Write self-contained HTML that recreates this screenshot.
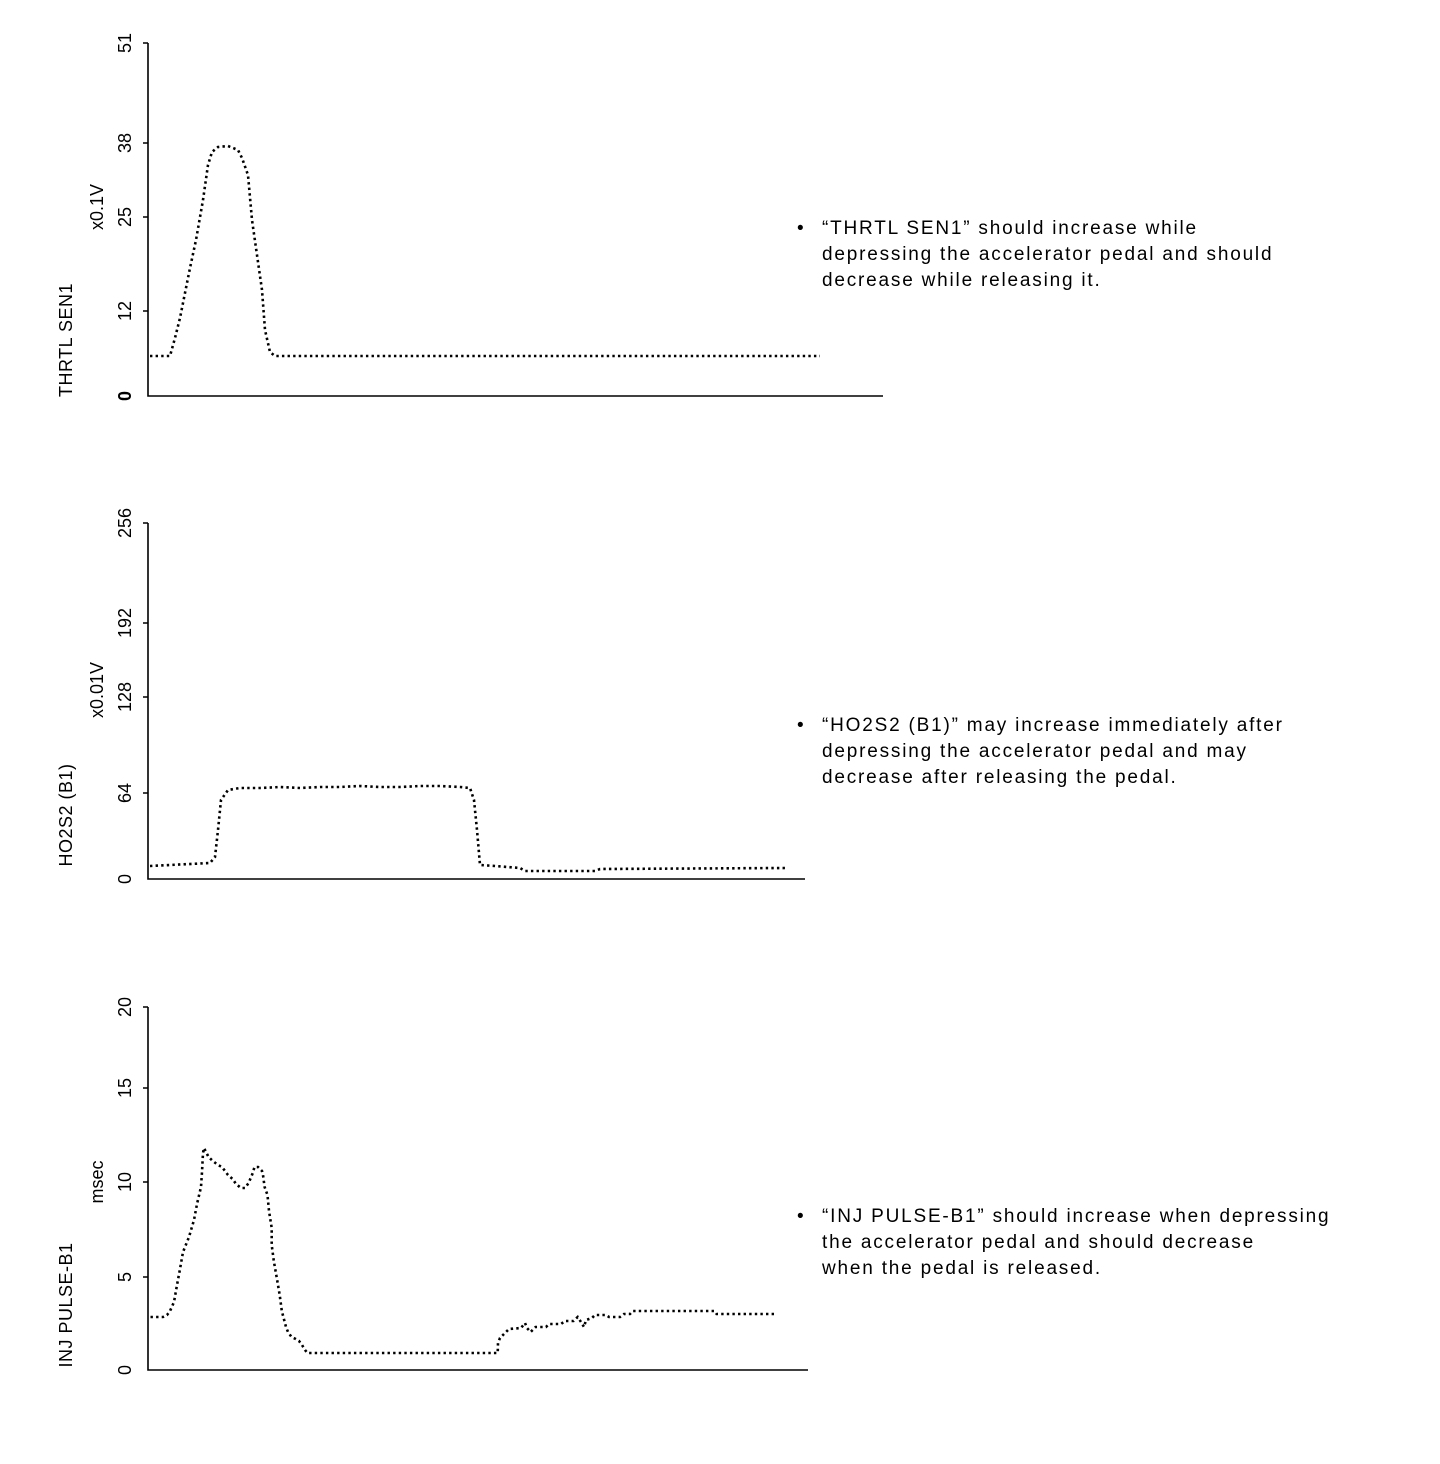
<!DOCTYPE html>
<html><head><meta charset="utf-8"><style>
html,body{margin:0;padding:0;background:#fff}
svg{display:block}
text{font-family:"Liberation Sans",Arial,sans-serif;fill:#000}
.t{font-size:18px}
.l{font-size:18px}
.b{font-size:19px;letter-spacing:1.8px}
.d{fill:none;stroke:#000;stroke-width:2.6;stroke-dasharray:2.4 3.2}
</style></head><body>
<svg width="1440" height="1464" viewBox="0 0 1440 1464">
<g stroke="#000" stroke-width="1.6" fill="none">
<path d="M148 43V396H883M143 43H148M143 143H148M143 217H148M143 311H148"/>
<path d="M148 523V879H805M143 523H148M143 623H148M143 697H148M143 793H148"/>
<path d="M148 1007V1370H808M143 1007H148M143 1088H148M143 1182H148M143 1277H148"/>
</g>
<g class="t">
<text transform="translate(131,43) rotate(-90)" text-anchor="middle">51</text>
<text transform="translate(131,143) rotate(-90)" text-anchor="middle">38</text>
<text transform="translate(131,217) rotate(-90)" text-anchor="middle">25</text>
<text transform="translate(131,311) rotate(-90)" text-anchor="middle">12</text>
<text transform="translate(131,396) rotate(-90)" text-anchor="middle" font-weight="bold">0</text>
<text transform="translate(131,523) rotate(-90)" text-anchor="middle">256</text>
<text transform="translate(131,623) rotate(-90)" text-anchor="middle">192</text>
<text transform="translate(131,697) rotate(-90)" text-anchor="middle">128</text>
<text transform="translate(131,793) rotate(-90)" text-anchor="middle">64</text>
<text transform="translate(131,879) rotate(-90)" text-anchor="middle">0</text>
<text transform="translate(131,1007) rotate(-90)" text-anchor="middle">20</text>
<text transform="translate(131,1088) rotate(-90)" text-anchor="middle">15</text>
<text transform="translate(131,1182) rotate(-90)" text-anchor="middle">10</text>
<text transform="translate(131,1277) rotate(-90)" text-anchor="middle">5</text>
<text transform="translate(131,1370) rotate(-90)" text-anchor="middle">0</text>
</g>
<g class="l">
<text transform="translate(103,207) rotate(-90)" text-anchor="middle">x0.1V</text>
<text transform="translate(72,340) rotate(-90)" text-anchor="middle" letter-spacing="0.5">THRTL SEN1</text>
<text transform="translate(103,690) rotate(-90)" text-anchor="middle">x0.01V</text>
<text transform="translate(72,815) rotate(-90)" text-anchor="middle" letter-spacing="0.5">HO2S2 (B1)</text>
<text transform="translate(103,1182) rotate(-90)" text-anchor="middle">msec</text>
<text transform="translate(72,1305) rotate(-90)" text-anchor="middle" letter-spacing="0.5">INJ PULSE-B1</text>
</g>
<polyline class="d" points="150,356 170,356 175,338 180,318 185,293 190,268 196,240 203,200 208,165 212,152 218,147 228,146 238,150 242,158 248,175 252,220 257,255 262,290 265,330 270,352 275,356 820,356"/>
<polyline class="d" points="150,866 210,863 215,857 218,830 221,800 228,790 240,788 260,788 280,787 300,788 320,787 340,787 360,786 380,787 400,787 420,786 440,786 460,787 470,788 474,800 477,830 480,865 495,866 520,868 525,871 595,871 600,869 785,868"/>
<polyline class="d" points="150.5,1317 163,1317 167,1315 170,1311 174,1302 177,1285 180,1269 183,1252 189,1237 194,1220 197,1204 201,1187 202,1172 203,1153 204,1148 206.5,1153 208.6,1157 212.8,1161 218,1165 222,1167 228,1175 232.6,1179 236,1184 241,1188 245,1188 248.6,1183 250.7,1178 252.8,1173 254.5,1167 258,1167 262,1171 263,1175 264.6,1187 267.5,1195 269,1211 271.7,1228 271.7,1245 273.8,1261 276.8,1278 279.7,1295 281.8,1311 286,1327 288,1332 291.5,1337 295.7,1339 299,1341 302,1345 305,1350 307.5,1353 497.7,1353 498,1343 500,1338 509,1329 521,1328 525,1323 527,1328 530.6,1332 535.6,1327 546,1327 549,1324 561,1324 565,1321 573.5,1321 577.7,1317 581,1322 584,1327 586,1320 592,1318 595,1315 606,1315 609,1317 620,1317 624,1314 630,1314 633,1311 714.5,1311 716.6,1314 775.5,1314"/>
<g class="b">
<text x="797" y="234">•</text>
<text x="822" y="234">“THRTL SEN1” should increase while</text>
<text x="822" y="260">depressing the accelerator pedal and should</text>
<text x="822" y="286">decrease while releasing it.</text>
<text x="797" y="731">•</text>
<text x="822" y="731">“HO2S2 (B1)” may increase immediately after</text>
<text x="822" y="757">depressing the accelerator pedal and may</text>
<text x="822" y="783">decrease after releasing the pedal.</text>
<text x="797" y="1222">•</text>
<text x="822" y="1222">“INJ PULSE-B1” should increase when depressing</text>
<text x="822" y="1248">the accelerator pedal and should decrease</text>
<text x="822" y="1274">when the pedal is released.</text>
</g>
</svg>
</body></html>
